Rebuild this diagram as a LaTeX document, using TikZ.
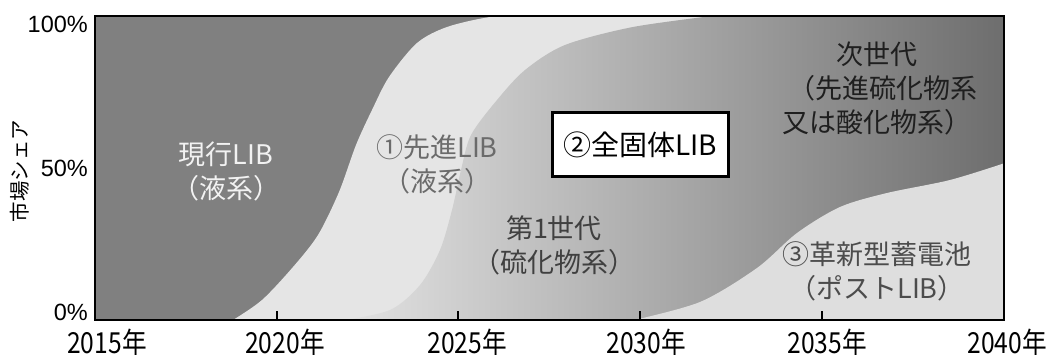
\documentclass[tikz,border=0pt]{standalone}
\usepackage{fontspec}
\setmainfont{Noto Sans CJK JP}
\newfontfamily\pctfont{Liberation Sans}
\newfontfamily\yearfont[FakeStretch=0.85]{Noto Sans CJK JP}

\begin{document}
\begin{tikzpicture}
        [x=1pt, y=-1pt,
        share/.style={inner sep=0, align=center, font=\fontsize{27}{34}\selectfont},
        yearlbl/.style={inner sep=0, font=\yearfont\fontsize{29}{32}\selectfont},
        pctlbl/.style={inner sep=0, anchor=east, font=\pctfont\fontsize{23.5}{26}\selectfont},
        tick/.style={line width=2.5pt, black}]

        \useasboundingbox (0,0) rectangle (1049,355);

        \begin{scope}
          \clip (95,16) rectangle (1004,320);
          \fill[black!50] (95,16) rectangle (1004,320);
          \fill[black!10] plot[smooth] coordinates {(233,320) (262,300) (293,267) (318,235) (339,192) (356,145) (372,110) (389,77) (417,43) (447,27) (490,17) (530,15)}
            -- (1004,15) -- (1004,320) -- cycle;
          \shade[left color=black!11, right color=black!57] plot[smooth] coordinates {(340,321) (390,310) (420,285) (440,250) (452,210) (461,170) (471,135) (497,100) (525,70) (565,45) (633,27) (720,15)}
            -- (1004,15) -- (1004,321) -- cycle;
          \fill[black!13] plot[smooth] coordinates {(630,321) (700,302) (757,268) (797,233) (840,207) (887,193) (950,180) (1005,163)}
            -- (1005,321) -- cycle;
        \end{scope}

        \draw[line width=2pt] (95,16) rectangle (1004,320);
        \draw[tick] (277,320) -- (277,311);
        \draw[tick] (458,320) -- (458,311);
        \draw[tick] (640,320) -- (640,311);
        \draw[tick] (822,320) -- (822,311);

        \node[pctlbl] (p100) at (88,24) {100\%};
        \node[pctlbl] (p50) at (88,168) {50\%};
        \node[pctlbl] (p0) at (88,312) {0\%};
        \node[inner sep=0, rotate=90, font=\fontsize{20.5}{24}\selectfont] (ytitle) at (20,171) {市場シェア};

        \node[yearlbl] (y2015) at (107,342) {2015年};
        \node[yearlbl] (y2020) at (285,342) {2020年};
        \node[yearlbl] (y2025) at (467,342) {2025年};
        \node[yearlbl] (y2030) at (646,342) {2030年};
        \node[yearlbl] (y2035) at (827,342) {2035年};
        \node[yearlbl] (y2040) at (1007,342) {2040年};

        \node[share, text=black!5] (cur) at (226,171) {現行LIB\\（液系）};
        \node[share, text=black!58] (adv) at (437,164) {①先進LIB\\（液系）};
        \node[share, text=black!75] (gen1) at (554,245) {第1世代\\（硫化物系）};
        \node[share, text=black!88] (gen2) at (877,88) {次世代\\\hspace*{12pt}（先進硫化物系\\又は酸化物系）};
        \node[share, text=black!70] (post) at (877,271) {③革新型蓄電池\\（ポストLIB）};
        \node[share, draw, line width=3pt, fill=white, minimum width=176pt, minimum height=64pt, font=\fontsize{28}{34}\selectfont] (ssb) at (640,145) {②全固体LIB};

      \end{tikzpicture}
\end{document}
